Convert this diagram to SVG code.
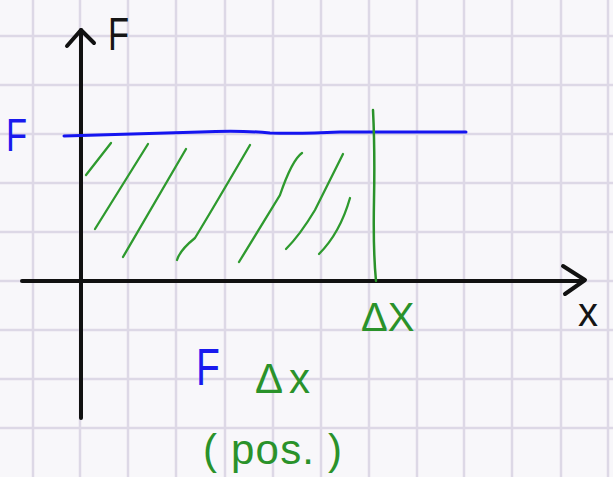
<svg xmlns="http://www.w3.org/2000/svg" width="613" height="477" viewBox="0 0 613 477">
<style>
.grid line{stroke:#ddd8e6;stroke-width:2.5}
.ax{stroke:#111;stroke-width:4;fill:none;stroke-linecap:round;stroke-linejoin:round}
.hat{stroke:#2e9a2e;stroke-width:2.3;fill:none;stroke-linecap:round}
.t{font-family:"Liberation Sans",Arial,sans-serif}
.blue{fill:#1a1aee}
.green{fill:#2a922a}
.black{fill:#151515}
</style>
<rect width="613" height="477" fill="#f8f7fa"/>
<g class="grid">
<line x1="33" y1="0" x2="33" y2="477"/><line x1="80" y1="0" x2="80" y2="477"/><line x1="128" y1="0" x2="128" y2="477"/><line x1="176" y1="0" x2="176" y2="477"/><line x1="225" y1="0" x2="225" y2="477"/><line x1="273" y1="0" x2="273" y2="477"/><line x1="321" y1="0" x2="321" y2="477"/><line x1="369" y1="0" x2="369" y2="477"/><line x1="417" y1="0" x2="417" y2="477"/><line x1="464" y1="0" x2="464" y2="477"/><line x1="512" y1="0" x2="512" y2="477"/><line x1="561" y1="0" x2="561" y2="477"/><line x1="608" y1="0" x2="608" y2="477"/>
<line x1="0" y1="36" x2="613" y2="36"/><line x1="0" y1="85" x2="613" y2="85"/><line x1="0" y1="134" x2="613" y2="134"/><line x1="0" y1="183" x2="613" y2="183"/><line x1="0" y1="232" x2="613" y2="232"/><line x1="0" y1="281" x2="613" y2="281"/><line x1="0" y1="330" x2="613" y2="330"/><line x1="0" y1="379" x2="613" y2="379"/><line x1="0" y1="428" x2="613" y2="428"/>
</g>
<g id="hatching">
<path class="hat" d="M86,175 L111,143"/>
<path class="hat" d="M95,229 L148,144"/>
<path class="hat" d="M123,257 L186,149"/>
<path class="hat" d="M177,260 Q180,250 195,238 Q215,205 250,145"/>
<path class="hat" d="M239,262 L280,195 Q292,160 302,153"/>
<path class="hat" d="M286,249 Q300,235 315,210 L343,154"/>
<path class="hat" d="M319,254 Q340,233 350,198"/>
</g>
<g id="connectors">
<path class="ax" d="M81,418 L81,30"/>
<path class="ax" stroke-width="2.5" d="M67,46 L81,30 L94,43"/>
<path class="ax" d="M22,281 L580,281"/>
<path class="ax" stroke-width="2.5" d="M563,266 L585,280 L565,294"/>
<path d="M64,136 Q130,134 200,132 Q240,130 270,133 Q300,134 340,132 L466,132" stroke="#1515f0" stroke-width="3" fill="none" stroke-linecap="round"/>
<path d="M373,110 Q375,150 374,200 Q373,250 376,281" stroke="#2a922a" stroke-width="2.5" fill="none" stroke-linecap="round"/>
</g>
<g id="label-F-axis"><text class="t black" x="108" y="50" font-size="46" transform="translate(108 0) scale(0.75 1) translate(-108 0)">F</text></g>
<g id="label-F-level"><text class="t blue" x="6" y="151" font-size="46" transform="translate(6 0) scale(0.75 1) translate(-6 0)">F</text></g>
<g id="label-x"><text class="t black" x="578" y="326" font-size="40">x</text></g>
<g id="label-dx"><text class="t green" x="361" y="331" font-size="40">ΔX</text></g>
<g id="label-area">
<text class="t blue" x="196" y="385" font-size="52" transform="translate(196 0) scale(0.75 1) translate(-196 0)">F</text>
<text class="t green" x="255" y="393" font-size="42" letter-spacing="6">Δx</text>
<text class="t green" x="203" y="464" font-size="42" letter-spacing="1.2">( pos. )</text>
</g>
</svg>
